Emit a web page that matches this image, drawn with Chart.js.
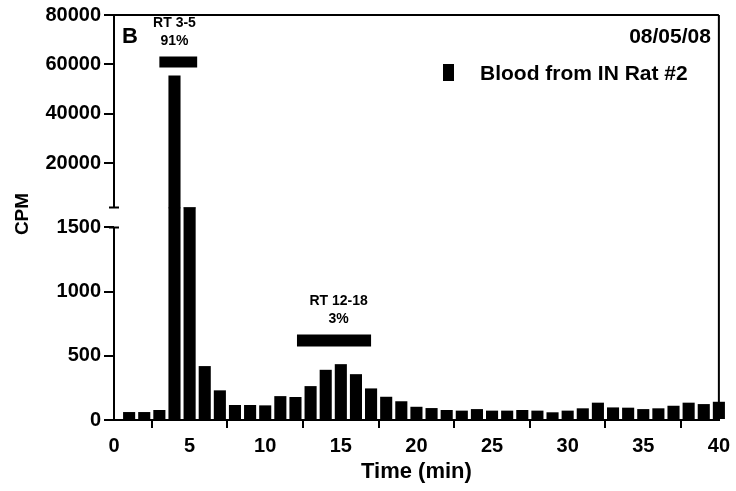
<!DOCTYPE html>
<html>
<head>
<meta charset="utf-8">
<script src="https://cdn.jsdelivr.net/npm/chart.js@4.4.1/dist/chart.umd.min.js"></script>
<style>
  html, body { margin: 0; padding: 0; background: #fff; }
  #wrap { width: 736px; height: 491px; }
</style>
</head>
<body>
<div id="wrap"><canvas id="chart"></canvas></div>
<script>
// fraction time (min) and counts
const times = [1, 2, 3, 4, 5, 6, 7, 8, 9, 10,
  11, 12, 13, 14, 15, 16, 17, 18, 19, 20,
  21, 22, 23, 24, 25, 26, 27, 28, 29, 30,
  31, 32, 33, 34, 35, 36, 37, 38, 39, 40];
const cpm = [62, 62, 78, 55500, 2100, 420, 231, 117, 117, 114,
  186, 179, 264, 391, 435, 357, 246, 181, 146, 103,
  93, 78, 73, 85, 73, 73, 78, 73, 60, 73,
  91, 135, 98, 96, 85, 91, 111, 135, 124, 142];

// broken y axis: lower and upper segment
const lowTicks = [0, 500, 1000, 1500];
const highTicks = [20000, 40000, 60000, 80000];
const lowAxisEnd = 1500;
const lowScaleMax = 1655;   // a bit of headroom above 1500 = the gap
const highScaleMin = 2000;
const highScaleMax = 80000;

// retention time windows
const peakFrom = [3.0, 12.1];
const peakTo = [5.5, 17.0];
const peakLevel = [61000, 620];
const peakAxis = ['yHigh', 'yLow'];
const peakLabelX = [4.0, 14.85];
const peakLabels = [['RT 3-5', '91%'], ['RT 12-18', '3%']];

const seriesName = 'Blood from IN Rat #2';
const runDate = '08/05/08';
const panel = 'B';

const FONT = "'Liberation Sans', Arial, Helvetica, sans-serif";

const lowData = times.map((t, i) => ({ x: t, y: Math.min(cpm[i], lowScaleMax) }));
// upper piece starts a hair under the break so the two halves join without a seam
const highData = times
  .map((t, i) => ({ x: t, y: [highScaleMin - 300, cpm[i]] }))
  .filter((d) => d.y[1] > highScaleMin);

const peakSets = peakFrom.map((f, i) => ({
  type: 'line',
  data: [{ x: f, y: peakLevel[i] }, { x: peakTo[i], y: peakLevel[i] }],
  yAxisID: peakAxis[i],
  borderColor: '#000',
  borderWidth: i === 0 ? 11 : 12,
  borderCapStyle: 'butt',
  pointRadius: 0,
  clip: false
}));

const barDefaults = {
  backgroundColor: '#000',
  borderWidth: 0,
  grouped: false,
  categoryPercentage: 1,
  barPercentage: 0.8,
  clip: false
};

const axisPlugin = {
  id: 'axisPlugin',
  afterDraw(chart) {
    const ctx = chart.ctx;
    const area = chart.chartArea;
    const lo = chart.scales.yLow;
    const hi = chart.scales.yHigh;
    const x0 = area.left;

    ctx.save();
    ctx.strokeStyle = '#000';
    ctx.lineWidth = 2;
    ctx.lineCap = 'butt';

    // y axis in two pieces
    const loBottom = lo.getPixelForValue(0);
    const loTop = lo.getPixelForValue(lowAxisEnd);
    const hiBottom = hi.getPixelForValue(highScaleMin);
    const hiTop = hi.getPixelForValue(highScaleMax);
    ctx.beginPath();
    ctx.moveTo(x0, loBottom + 1);
    ctx.lineTo(x0, loTop);
    ctx.moveTo(x0, hiBottom);
    ctx.lineTo(x0, hiTop - 1);
    // little caps at the break
    ctx.moveTo(x0 - 5, loTop);
    ctx.lineTo(x0 + 5, loTop);
    ctx.moveTo(x0 - 5, hiBottom);
    ctx.lineTo(x0 + 5, hiBottom);
    // frame top and right
    ctx.moveTo(x0, area.top);
    ctx.lineTo(area.right, area.top);
    ctx.moveTo(area.right, area.top);
    ctx.lineTo(area.right, area.bottom);
    ctx.stroke();

    ctx.fillStyle = '#000';

    // panel letter and date
    ctx.font = 'bold 22px ' + FONT;
    ctx.textBaseline = 'middle';
    ctx.textAlign = 'left';
    ctx.fillText(panel, x0 + 8, 37);
    ctx.font = 'bold 21px ' + FONT;
    ctx.textAlign = 'right';
    ctx.fillText(runDate, area.right - 8, 37);

    // legend
    ctx.fillRect(443, 64, 11, 17);
    ctx.textAlign = 'left';
    ctx.fillText(seriesName, 480, 74);

    // y title
    ctx.save();
    ctx.translate(23, 214);
    ctx.rotate(-Math.PI / 2);
    ctx.textAlign = 'center';
    ctx.font = 'bold 19px ' + FONT;
    ctx.fillText('CPM', 0, 0);
    ctx.restore();

    // labels over the retention windows
    ctx.font = 'bold 14px ' + FONT;
    ctx.textAlign = 'center';
    peakLabels.forEach((lines, i) => {
      const sc = chart.scales[peakAxis[i]];
      const px = chart.scales.x.getPixelForValue(peakLabelX[i]);
      const py = sc.getPixelForValue(peakLevel[i]);
      ctx.fillText(lines[0], px, py - 39);
      ctx.fillText(lines[1], px, py - 21);
    });
    ctx.restore();
  }
};

const tickFont = { family: FONT, size: 20, weight: 'bold' };
const plain = (v) => String(v);

new Chart(document.getElementById('chart'), {
  type: 'bar',
  data: {
    datasets: [
      Object.assign({ label: seriesName, data: lowData, yAxisID: 'yLow' }, barDefaults),
      Object.assign({ label: seriesName, data: highData, yAxisID: 'yHigh' }, barDefaults),
      ...peakSets
    ]
  },
  options: {
    responsive: true,
    maintainAspectRatio: false,
    animation: false,
    layout: { padding: { left: 0, right: 16, top: 14, bottom: 0 } },
    plugins: {
      legend: { display: false },
      tooltip: { enabled: false }
    },
    scales: {
      x: {
        type: 'linear',
        min: 0,
        max: 40,
        offset: false,
        ticks: { stepSize: 5, color: '#000', font: tickFont, padding: 6, maxRotation: 0, callback: plain },
        grid: { drawOnChartArea: false, drawTicks: true, tickLength: 8, lineWidth: 2, color: '#000' },
        border: { display: true, width: 2, color: '#000' },
        title: {
          display: true,
          text: 'Time (min)',
          color: '#000',
          font: { family: FONT, size: 22, weight: 'bold' },
          padding: { top: 0, bottom: 6 }
        },
        afterFit(scale) { scale.height = 71; }
      },
      yLow: {
        type: 'linear',
        position: 'left',
        stack: 'cpm',
        stackWeight: 213,
        min: 0,
        max: lowScaleMax,
        ticks: { color: '#000', font: tickFont, padding: 3, callback: plain },
        grid: { drawOnChartArea: false, drawTicks: true, tickLength: 10, lineWidth: 2, color: '#000' },
        border: { display: false },
        afterBuildTicks(scale) { scale.ticks = lowTicks.map((v) => ({ value: v })); },
        afterFit(scale) { scale.width = 114; }
      },
      yHigh: {
        type: 'linear',
        position: 'left',
        stack: 'cpm',
        stackWeight: 193,
        min: highScaleMin,
        max: highScaleMax,
        ticks: { color: '#000', font: tickFont, padding: 3, callback: plain },
        grid: { drawOnChartArea: false, drawTicks: true, tickLength: 10, lineWidth: 2, color: '#000' },
        border: { display: false },
        afterBuildTicks(scale) { scale.ticks = highTicks.map((v) => ({ value: v })); },
        afterFit(scale) { scale.width = 114; }
      }
    }
  },
  plugins: [axisPlugin]
});
</script>
</body>
</html>
